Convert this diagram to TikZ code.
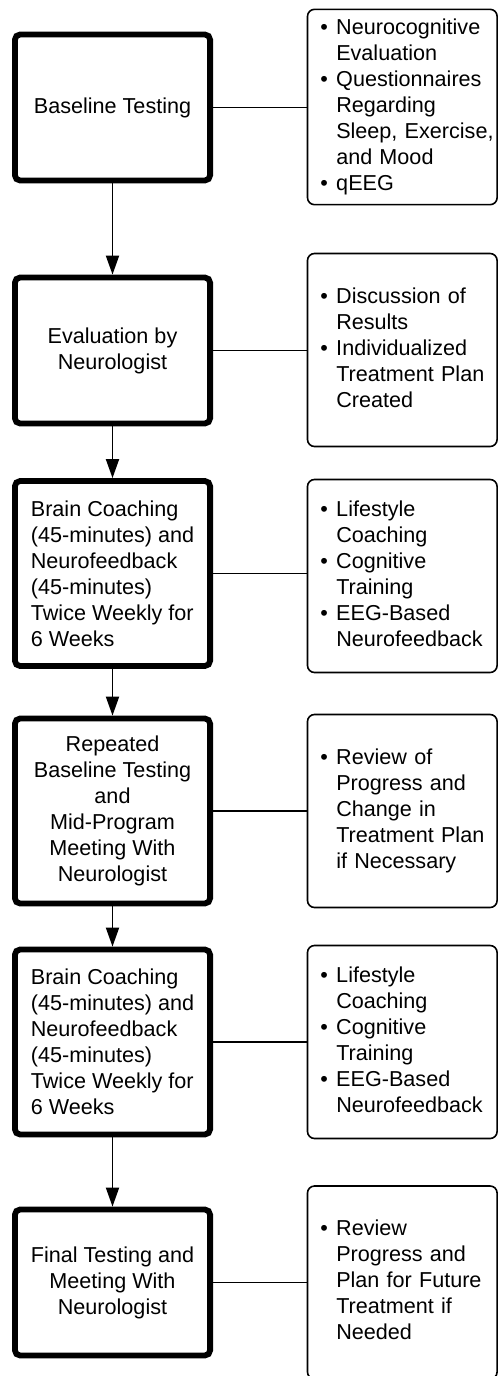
\documentclass[tikz,border=0pt]{standalone}
\usepackage{fontspec}
\setmainfont{Liberation Sans}
\usetikzlibrary{arrows.meta}
\tikzset{
  stage/.style={draw, line width=2.9pt, rounded corners=2.6pt, minimum width=97.6pt,
    inner xsep=7.5pt, font=\fontsize{10.8pt}{13pt}\selectfont},
  note/.style={draw, line width=0.8pt, rounded corners=3.5pt, minimum height=96.5pt,
    text width=82pt, inner xsep=6.4pt, align=left, font=\fontsize{10.8pt}{13pt}\selectfont},
  flow/.style={line width=0.9pt, -{Triangle[length=9.5pt,width=6.5pt]}},
  link/.style={line width=0.9pt}
}
\newcommand{\itemlist}[1]{\begin{tabular}{@{}l@{\hspace{4.2pt}}l@{}}#1\end{tabular}}
\begin{document}
\begin{tikzpicture}[x=0.5pt, y=-0.5pt]
				\useasboundingbox (0,0) rectangle (498,1376);
				
				% left column
				\node[stage, minimum height=73pt, align=center] (base) at (112.5,107.5) {Baseline Testing};
				\node[stage, minimum height=73pt, align=center] (eval) at (112.5,350.5) {Evaluation by\\Neurologist};
				\node[stage, minimum height=92.5pt, align=left] (coachA) at (112.5,573.5) {Brain Coaching\\(45-minutes) and\\Neurofeedback\\(45-minutes)\\Twice Weekly for\\6 Weeks};
				\node[stage, minimum height=92.5pt, align=center] (mid) at (112.5,811) {Repeated\\Baseline Testing\\and\\Mid-Program\\Meeting With\\Neurologist};
				\node[stage, minimum height=92.5pt, align=left] (coachB) at (112.5,1042) {Brain Coaching\\(45-minutes) and\\Neurofeedback\\(45-minutes)\\Twice Weekly for\\6 Weeks};
				\node[stage, minimum height=73pt, align=center] (final) at (112.5,1282.5) {Final Testing and\\Meeting With\\Neurologist};
				
				% right column
				\node[note] (baseR) at (402.3,107) {\itemlist{\textbullet & Neurocognitive\\ & Evaluation\\ \textbullet & Questionnaires\\ & Regarding\\ & Sleep, Exercise,\\ & and Mood\\ \textbullet & qEEG}};
				\node[note] (evalR) at (402.3,350) {\itemlist{\textbullet & Discussion of\\ & Results\\ \textbullet & Individualized\\ & Treatment Plan\\ & Created}};
				\node[note] (coachAR) at (402.3,576) {\itemlist{\textbullet & Lifestyle\\ & Coaching\\ \textbullet & Cognitive\\ & Training\\ \textbullet & EEG-Based\\ & Neurofeedback}};
				\node[note] (midR) at (402.3,811) {\itemlist{\textbullet & Review of\\ & Progress and\\ & Change in\\ & Treatment Plan\\ & if Necessary}};
				\node[note] (coachBR) at (402.3,1042) {\itemlist{\textbullet & Lifestyle\\ & Coaching\\ \textbullet & Cognitive\\ & Training\\ \textbullet & EEG-Based\\ & Neurofeedback}};
				\node[note] (finalR) at (402.3,1282.5) {\itemlist{\textbullet & Review\\ & Progress and\\ & Plan for Future\\ & Treatment if\\ & Needed}};
				
				% arrows
				\draw[flow] (base) -- (eval);
				\draw[flow] (eval) -- (coachA);
				\draw[flow] (coachA) -- (mid);
				\draw[flow] (mid) -- (coachB);
				\draw[flow] (coachB) -- (final);
				
				% side links
				\draw[link] (base.east) -- (base.east -| baseR.west);
				\draw[link] (eval.east) -- (eval.east -| evalR.west);
				\draw[link] (coachA.east) -- (coachA.east -| coachAR.west);
				\draw[link] (mid.east) -- (mid.east -| midR.west);
				\draw[link] (coachB.east) -- (coachB.east -| coachBR.west);
				\draw[link] (final.east) -- (final.east -| finalR.west);
			\end{tikzpicture}
\end{document}
